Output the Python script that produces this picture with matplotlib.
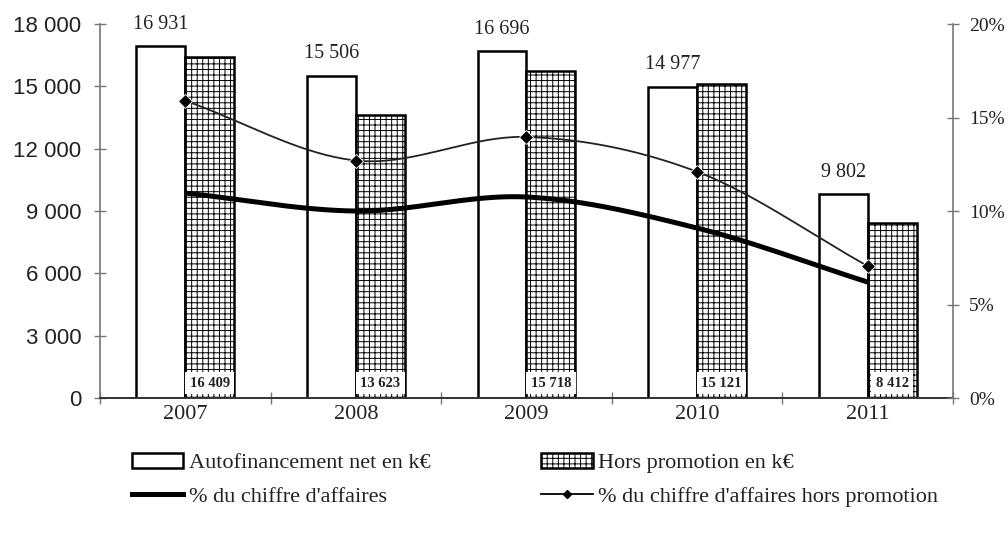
"""Autofinancement net et part du chiffre d'affaires, 2007-2011."""

import numpy as np
import matplotlib
matplotlib.use("Agg")
import matplotlib.pyplot as plt
from matplotlib.patches import Patch
from matplotlib.lines import Line2D
from matplotlib.ticker import FuncFormatter, PercentFormatter


years = ["2007", "2008", "2009", "2010", "2011"]
autofinancement = [16931, 15506, 16696, 14977, 9802]
hors_promotion = [16409, 13623, 15718, 15121, 8412]
pct_ca = [0.1096, 0.1000, 0.1075, 0.0909, 0.0620]
pct_ca_hors_promo = [0.159, 0.127, 0.1396, 0.121, 0.0706]

serif = "Liberation Serif"
sans = "Liberation Sans"
plt.rcParams["hatch.linewidth"] = 0.7
plt.rcParams["hatch.color"] = "#4a4a4a"


def smooth(xs, ys, n=40):
    # Catmull-Rom curve through the points, as a spreadsheet "smoothed line"
    xs = np.asarray(xs, float)
    ys = np.asarray(ys, float)
    px = np.concatenate([[2 * xs[0] - xs[1]], xs, [2 * xs[-1] - xs[-2]]])
    py = np.concatenate([[2 * ys[0] - ys[1]], ys, [2 * ys[-1] - ys[-2]]])
    out_x, out_y = [], []
    t = np.linspace(0, 1, n)
    for i in range(1, len(px) - 2):
        for arr, out in ((px, out_x), (py, out_y)):
            p0, p1, p2, p3 = arr[i - 1], arr[i], arr[i + 1], arr[i + 2]
            seg = 0.5 * ((2 * p1) + (-p0 + p2) * t
                         + (2 * p0 - 5 * p1 + 4 * p2 - p3) * t ** 2
                         + (-p0 + 3 * p1 - 3 * p2 + p3) * t ** 3)
            out.extend(seg)
    return np.array(out_x), np.array(out_y)


fig = plt.figure(figsize=(10.08, 5.37), dpi=100)
ax = fig.add_axes([0.0992, 0.2588, 0.8462, 0.6965])
ax2 = ax.twinx()

x = np.arange(len(years))
w = 0.287

ax.bar(x - w / 2, autofinancement, w, color="white", edgecolor="black",
       linewidth=1.8, zorder=2)
ax.bar(x + w / 2, hors_promotion, w, color="white", edgecolor="black",
       linewidth=1.8, hatch="+++", zorder=2)

for xi, v in zip(x, autofinancement):
    ax.annotate(f"{v:,}".replace(",", " "), (xi - w / 2, v),
                xytext=(0, 9), textcoords="offset points",
                ha="center", va="bottom", fontsize=14.5, family=serif,
                color="#222222", annotation_clip=False)

for xi, v in zip(x, hors_promotion):
    ax.annotate(f"{v:,}".replace(",", " "), (xi + w / 2, 0),
                xytext=(0, 6), textcoords="offset points",
                ha="center", va="bottom", fontsize=10.5, family=serif,
                fontweight="bold", color="#222222", zorder=4,
                bbox=dict(boxstyle="square,pad=0.3", fc="white", ec="none"))

ax.set_xlim(-0.5, len(years) - 0.5)
ax.set_ylim(0, 18000)
ax.set_yticks(range(0, 18001, 3000))
ax.yaxis.set_major_formatter(
    FuncFormatter(lambda v, _: f"{int(v):,}".replace(",", " ")))
ax.set_xticks(x)
ax.set_xticklabels(years, family=serif, fontsize=16)
ax.set_xticks(np.arange(-0.5, len(years)), minor=True)
ax.tick_params(axis="x", which="major", length=0, pad=5, colors="#222222")
ax.tick_params(axis="x", which="minor", direction="inout", length=9,
               color="#777777", width=1)
ax.tick_params(axis="y", direction="inout", length=9, color="#777777",
               width=1, pad=9, labelsize=16, labelcolor="#222222")
for lab in ax.get_yticklabels():
    lab.set_family(sans)

for side in ("top", "right"):
    ax.spines[side].set_visible(False)
ax.spines["left"].set_color("#777777")
ax.spines["left"].set_linewidth(1.2)
ax.spines["bottom"].set_color("#333333")
ax.spines["bottom"].set_linewidth(1.4)

# percentage lines on the right-hand scale
sx, sy = smooth(x, pct_ca)
ax2.plot(sx, sy, color="black", linewidth=3.6, solid_capstyle="butt")
sx, sy = smooth(x, pct_ca_hors_promo)
ax2.plot(sx, sy, color="#222222", linewidth=1.3)
ax2.plot(x, pct_ca_hors_promo, linestyle="none", marker="D", markersize=7,
         color="black", markeredgecolor="white", markeredgewidth=0.6)

ax2.set_ylim(0, 0.2)
ax2.set_yticks(np.arange(0, 0.201, 0.05))
ax2.yaxis.set_major_formatter(PercentFormatter(1.0, decimals=0))
ax2.tick_params(axis="y", direction="inout", length=9, color="#777777",
                width=1, pad=7, labelsize=14, labelcolor="#222222")
for lab in ax2.get_yticklabels():
    lab.set_family(serif)
for side in ("top", "left", "bottom"):
    ax2.spines[side].set_visible(False)
ax2.spines["right"].set_color("#777777")
ax2.spines["right"].set_linewidth(1.2)

handles = [
    Patch(facecolor="white", edgecolor="black", linewidth=1.8),
    Line2D([], [], color="black", linewidth=3.6),
    Patch(facecolor="white", edgecolor="black", linewidth=1.8, hatch="+++"),
    Line2D([], [], color="black", linewidth=1.3, marker="D", markersize=4),
]
labels = [
    "Autofinancement net en k€",
    "% du chiffre d'affaires",
    "Hors promotion en k€",
    "% du chiffre d'affaires hors promotion",
]
fig.legend(handles, labels, ncol=2, loc="upper left",
           bbox_to_anchor=(132 / 1008, 1 - 453 / 537), frameon=False,
           prop={"family": serif, "size": 16}, handlelength=2.3,
           handleheight=0.65, handletextpad=0.25, columnspacing=5.0,
           labelspacing=0.6, borderpad=0, borderaxespad=0,
           labelcolor="#222222")

fig.savefig("out.png", dpi=100, facecolor="white")
